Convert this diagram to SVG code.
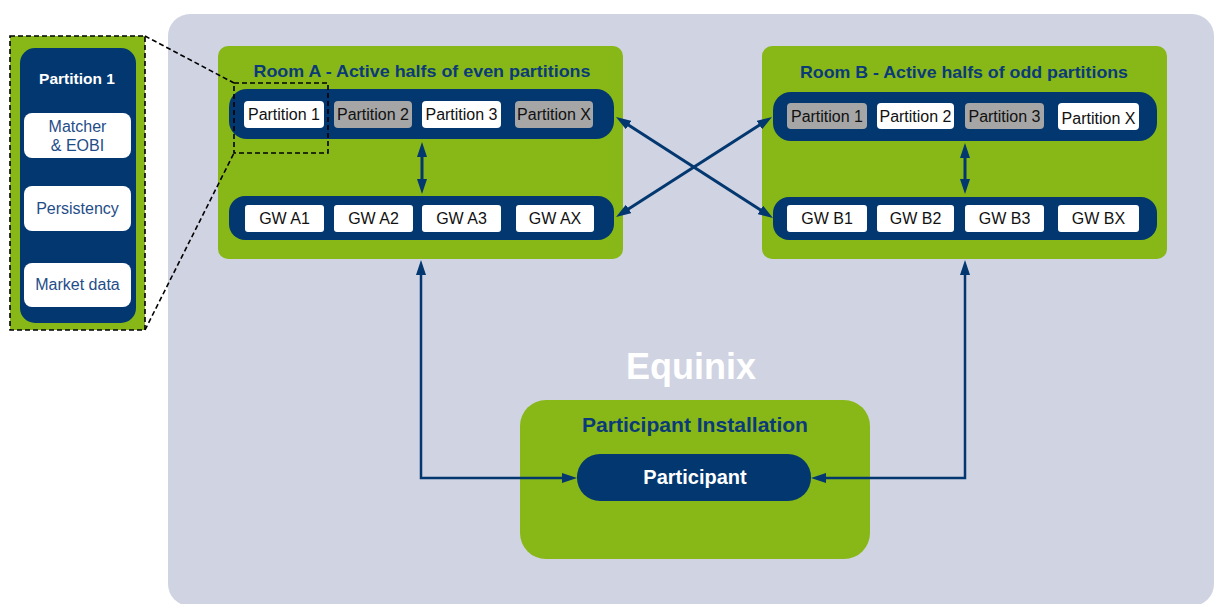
<svg xmlns="http://www.w3.org/2000/svg" width="1214" height="604" viewBox="0 0 1214 604">
<style>
.bg{fill:#D0D3E2}
.green{fill:#87B818}
.navy{fill:#02376F}
.wbox{fill:#FFFFFF}
.gbox{fill:#A6A6A6}
.t{font-family:"Liberation Sans",Arial,sans-serif;text-anchor:middle}
.title{font-size:17px;font-weight:bold;fill:#0B3A78}
.big{font-size:21px}
.pt{font-size:16px;fill:#111111}
.ct{font-size:16px;fill:#1F4D88}
.wt{font-weight:bold;fill:#FFFFFF}
.dash{fill:none;stroke:#000000;stroke-width:1.6;stroke-dasharray:5,3}
.conn{fill:none;stroke:#02376F;stroke-width:3;marker-start:url(#ah);marker-end:url(#ah)}
.conn2{fill:none;stroke:#02376F;stroke-width:2.5;marker-start:url(#ah);marker-end:url(#ah)}
</style>
<defs>
<marker id="ah" markerUnits="userSpaceOnUse" markerWidth="15" markerHeight="10" refX="3" refY="5" orient="auto-start-reverse" viewBox="0 0 15 10">
<path d="M0,0 L15,5 L0,10 z" fill="#02376F"/>
</marker>
</defs>

<rect class="bg" x="168" y="14" width="1046" height="592" rx="22"/>

<text class="t wt" x="691" y="379" font-size="36">Equinix</text>

<g id="callout">
<rect class="green" x="10" y="36" width="135" height="294"/>
<rect class="navy" x="20" y="48" width="116" height="275" rx="15"/>
<text class="t wt" x="77" y="84" font-size="15.5">Partition 1</text>
<rect class="wbox" x="24" y="113" width="107" height="45" rx="8"/>
<text class="t ct" x="77.5" y="132">Matcher</text>
<text class="t ct" x="77.5" y="151">&amp; EOBI</text>
<rect class="wbox" x="24" y="186" width="107" height="45" rx="8"/>
<text class="t ct" x="77.5" y="214">Persistency</text>
<rect class="wbox" x="24" y="263" width="107" height="44" rx="8"/>
<text class="t ct" x="77.5" y="290">Market data</text>
<rect class="dash" x="10" y="36" width="135" height="294"/>
</g>

<g id="roomA">
<rect class="green" x="218" y="46" width="405" height="213" rx="10"/>
<text class="t title" x="422" y="77" textLength="337" lengthAdjust="spacingAndGlyphs">Room A - Active halfs of even partitions</text>
<g id="roomA-partitions">
<rect class="navy" x="229" y="89" width="385" height="50" rx="18"/>
<rect class="wbox" x="244" y="101" width="80" height="27" rx="4"/>
<text class="t pt" x="284" y="120">Partition 1</text>
<rect class="gbox" x="334" y="101" width="78" height="27" rx="4"/>
<text class="t pt" x="373" y="120">Partition 2</text>
<rect class="wbox" x="422" y="101" width="79" height="27" rx="4"/>
<text class="t pt" x="461.5" y="120">Partition 3</text>
<rect class="gbox" x="515" y="101" width="78" height="27" rx="4"/>
<text class="t pt" x="554" y="120">Partition X</text>
</g>
<g id="roomA-gateways">
<rect class="navy" x="229" y="196" width="385" height="44" rx="16"/>
<rect class="wbox" x="245" y="205" width="79" height="27" rx="3"/>
<text class="t pt" x="284.5" y="224">GW A1</text>
<rect class="wbox" x="334" y="205" width="79" height="27" rx="3"/>
<text class="t pt" x="373.5" y="224">GW A2</text>
<rect class="wbox" x="422" y="205" width="79" height="27" rx="3"/>
<text class="t pt" x="461.5" y="224">GW A3</text>
<rect class="wbox" x="516" y="205" width="78" height="27" rx="3"/>
<text class="t pt" x="555" y="224">GW AX</text>
</g>
</g>

<g id="roomB">
<rect class="green" x="762" y="46" width="405" height="213" rx="10"/>
<text class="t title" x="964" y="78" textLength="328" lengthAdjust="spacingAndGlyphs">Room B - Active halfs of odd partitions</text>
<g id="roomB-partitions">
<rect class="navy" x="773" y="92" width="384" height="49" rx="18"/>
<rect class="gbox" x="787" y="103" width="80" height="26" rx="4"/>
<text class="t pt" x="827" y="122">Partition 1</text>
<rect class="wbox" x="877" y="103" width="77" height="26" rx="4"/>
<text class="t pt" x="915.5" y="122">Partition 2</text>
<rect class="gbox" x="965" y="103" width="79" height="26" rx="4"/>
<text class="t pt" x="1004.5" y="122">Partition 3</text>
<rect class="wbox" x="1058" y="103" width="81" height="27" rx="4"/>
<text class="t pt" x="1098.5" y="124">Partition X</text>
</g>
<g id="roomB-gateways">
<rect class="navy" x="773" y="197" width="384" height="43" rx="16"/>
<rect class="wbox" x="787" y="205" width="80" height="27" rx="3"/>
<text class="t pt" x="827" y="224">GW B1</text>
<rect class="wbox" x="877" y="205" width="77" height="27" rx="3"/>
<text class="t pt" x="915.5" y="224">GW B2</text>
<rect class="wbox" x="965" y="205" width="79" height="27" rx="3"/>
<text class="t pt" x="1004.5" y="224">GW B3</text>
<rect class="wbox" x="1058" y="205" width="81" height="27" rx="3"/>
<text class="t pt" x="1098.5" y="224">GW BX</text>
</g>
</g>

<g id="participant-installation">
<rect class="green" x="520" y="400" width="350" height="159" rx="26"/>
<text class="t title big" x="695" y="432" textLength="226" lengthAdjust="spacingAndGlyphs">Participant Installation</text>
<g id="participant">
<rect class="navy" x="577" y="454" width="234" height="47" rx="23"/>
<text class="t wt" x="695" y="484" font-size="20">Participant</text>
</g>
</g>

<g id="zoom-indicator">
<rect class="dash" x="234" y="83" width="94" height="70"/>
<line class="dash" x1="145" y1="36" x2="234" y2="83"/>
<line class="dash" x1="145" y1="330" x2="234" y2="153"/>
</g>

<g id="connectors">
<path class="conn" d="M422,154 V182"/>
<path class="conn" d="M965,155 V182"/>
<path class="conn" d="M626.1,123.5 L762.9,211.5"/>
<path class="conn" d="M626.1,210.5 L761.9,123.5"/>
<path class="conn2" d="M421,272 V478 H565"/>
<path class="conn2" d="M965,272 V478 H823"/>
</g>
</svg>
